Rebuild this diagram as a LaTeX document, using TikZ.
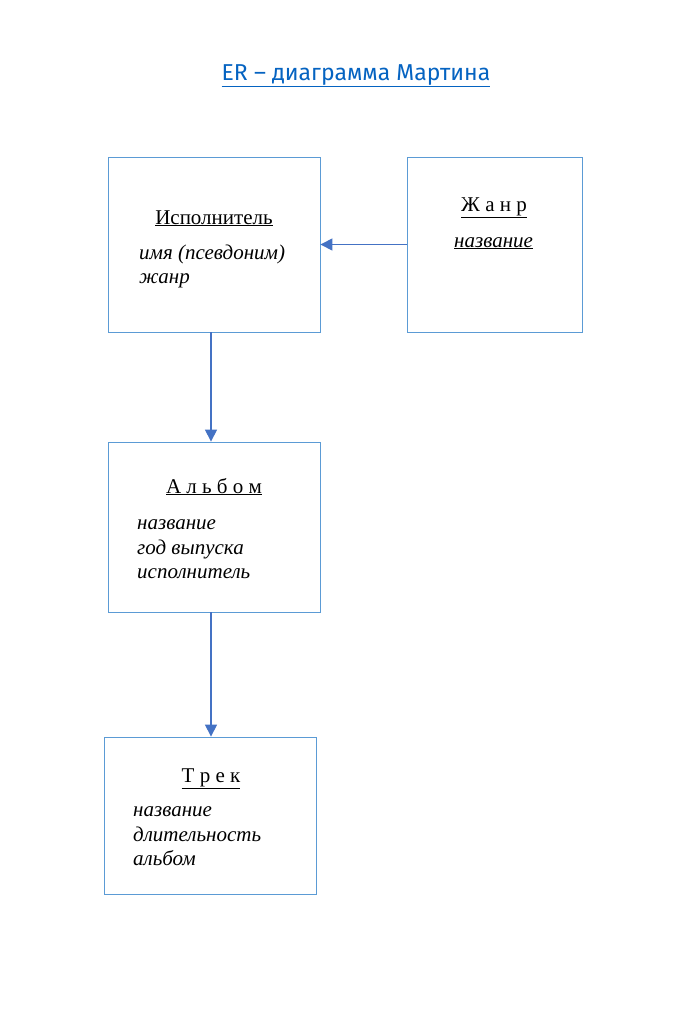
\documentclass[tikz,border=0pt]{standalone}
\usepackage{fontspec}
\setmainfont{Liberation Serif}
\newfontfamily\titlefont{Fira Sans}
\usetikzlibrary{arrows.meta}
\definecolor{boxc}{HTML}{5B9BD5}
\definecolor{arrc}{HTML}{4472C4}
\definecolor{linkc}{HTML}{0563C1}
\tikzset{
  entity/.style={draw=boxc, line width=0.8pt, inner sep=0pt},
  conn/.style={draw=arrc, line width=1.1pt, -{Triangle[length=12pt,width=12pt]}},
  head/.style={inner sep=0pt, anchor=base, font=\fontsize{21}{24}\selectfont},
  attr/.style={inner sep=0pt, anchor=base west, font=\fontsize{21}{24}\selectfont\itshape},
}
\begin{document}
\begin{tikzpicture}[x=1pt,y=-1pt]
\useasboundingbox (0,0) rectangle (688,1018);
\node[inner sep=0pt, anchor=base, text=linkc, font=\titlefont\fontsize{23}{26}\selectfont] (title) at (356,80) {\underline{ER – диаграмма Мартина}};
% boxes
\node[entity, minimum width=212pt, minimum height=175pt] (isp) at (214,244.5) {};
\node[entity, minimum width=175pt, minimum height=175pt] (zhanr) at (494.5,244.5) {};
\node[entity, minimum width=212pt, minimum height=170pt] (alb) at (214,527) {};
\node[entity, minimum width=212pt, minimum height=157pt] (trek) at (210,815.5) {};
\coordinate (ax) at (211,0);
% texts
\node[head] (ih) at (214,224) {\underline{Исполнитель}};
\node[attr] (ia1) at (139,259) {имя (псевдоним)};
\node[attr] (ia2) at (139,283) {жанр};
\node[head] (zh) at (494,211) {\underline{Ж а н р}};
\node[attr] (za) at (454,247) {\underline{название}};
\node[head] (ah) at (214,493) {\underline{А л ь б о м}};
\node[attr] (aa1) at (137,529) {название};
\node[attr] (aa2) at (137,554) {год выпуска};
\node[attr] (aa3) at (137,578) {исполнитель};
\node[head] (th) at (211,782) {\underline{Т р е к}};
\node[attr] (ta1) at (133,816) {название};
\node[attr] (ta2) at (133,841) {длительность};
\node[attr] (ta3) at (133,865) {альбом};
% connectors
\draw[conn] (zhanr.west) -- (isp.east);
\draw[conn] (isp.south -| ax) -- (alb.north -| ax);
\draw[conn] (alb.south -| ax) -- (trek.north -| ax);
\end{tikzpicture}
\end{document}
